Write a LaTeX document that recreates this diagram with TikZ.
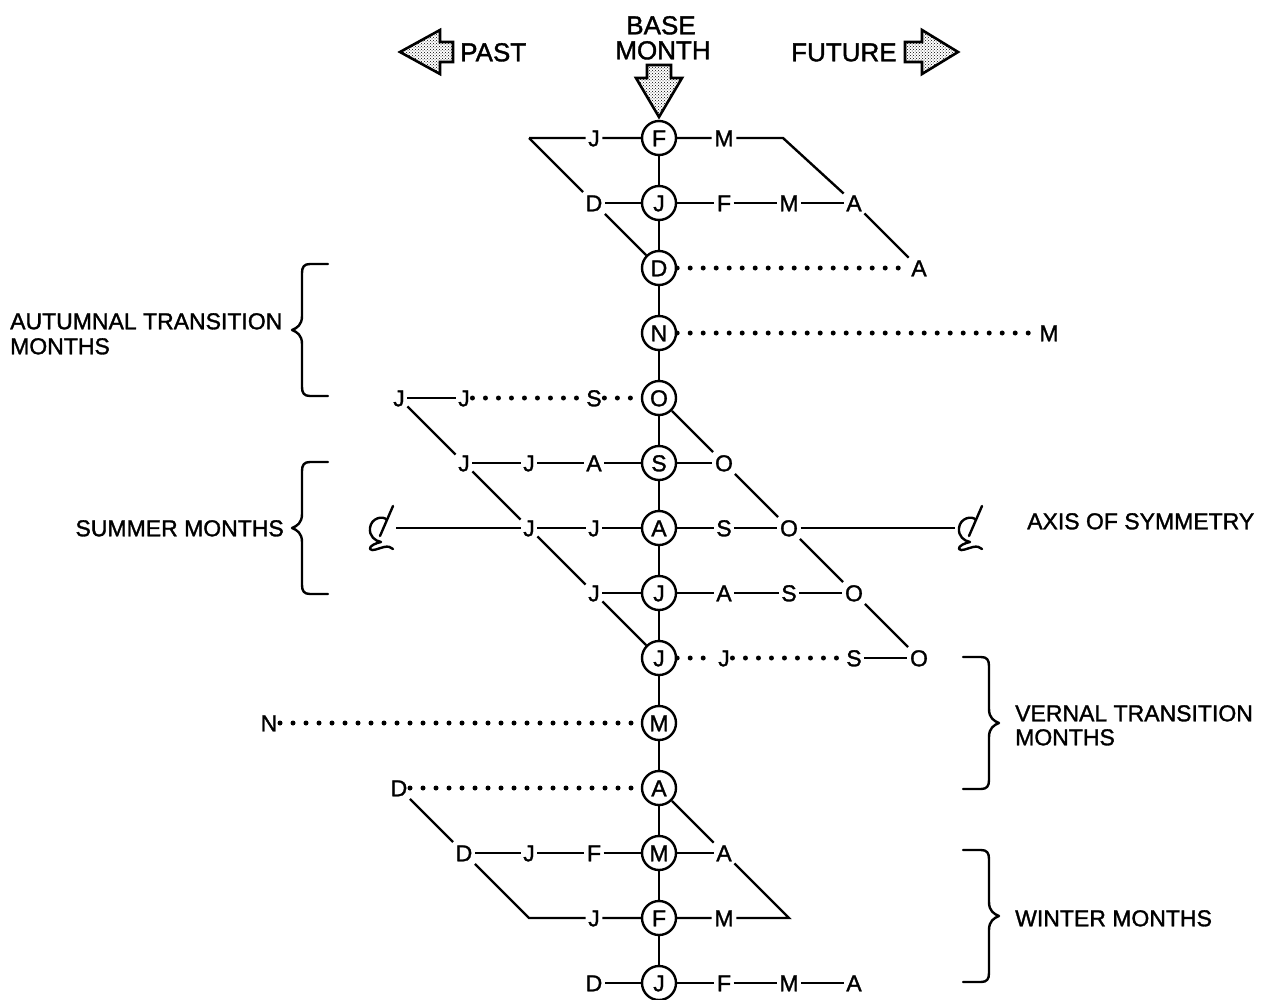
\documentclass[tikz,border=0pt]{standalone}
\usepackage{fontspec}
\setmainfont{Liberation Sans}
\newfontfamily\letterfont{Liberation Sans}[FakeBold=1.4]
\usetikzlibrary{patterns}
\newcommand{\labfont}{\letterfont\fontsize{23}{25}\selectfont}
\newcommand{\topfont}{\letterfont\fontsize{26}{26}\selectfont}
\begin{document}
\begin{tikzpicture}[x=1pt,y=-1pt,
  month/.style={inner sep=2.5pt, font=\labfont, text height=16.5pt, text depth=0pt},
  base/.style={circle, draw, line width=2.4pt, minimum size=34pt, inner sep=0pt, font=\labfont, text height=16.5pt, text depth=0pt},
  lbl/.style={inner sep=0pt, font=\labfont, text height=16.5pt, text depth=0pt},
  tlbl/.style={inner sep=0pt, font=\topfont, text height=18.6pt, text depth=0pt},
  ln/.style={line width=2.4pt},
  dots/.style={line width=5pt, line cap=round, dash pattern=on 0pt off 13pt},
  brace/.style={line width=2.4pt, line cap=round, line join=round},
  blockarrow/.style={draw, line width=2.6pt, line join=miter, pattern=crosshatch dots},
  clbox/.style={inner sep=0pt, minimum width=30pt, minimum height=40pt},
  clsym/.pic={
    \draw[line width=2.4pt, line cap=round, line join=round]
      (6,-8) .. controls (2,-13) and (-10,-10) .. (-11,0)
      .. controls (-12,8) and (-6,13) .. (0,14)
      .. controls (-5,15) and (-12,18) .. (-11,21)
      .. controls (-9,24) and (-2,20) .. (3,19)
      .. controls (7,18) and (10,19) .. (12,21);
    \draw[line width=2.4pt, line cap=round] (12,-22) -- (-1,8);
  },
  curly/.pic={
    \draw[brace] (36,-66) -- (18,-66) .. controls (12,-66) and (10,-63) .. (10,-57)
      -- (10,-14) .. controls (10,-5) and (5,-2) .. (0,0)
      .. controls (5,2) and (10,5) .. (10,14)
      -- (10,57) .. controls (10,63) and (12,66) .. (18,66) -- (36,66);
  }
]
\fill[white] (0,0) rectangle (1269,999);
\useasboundingbox (0,0) rectangle (1269,999);

% top labels and arrows
\node[tlbl] (base1) at (661,25) {BASE};
\node[tlbl] (base2) at (663,50) {MONTH};
\node[tlbl, anchor=west] (past) at (460,52) {PAST};
\node[tlbl, anchor=west] (future) at (791,52) {FUTURE};
\draw[blockarrow] (400,52) -- (440,30) -- (440,42) -- (453,42) -- (453,62) -- (440,62) -- (440,74) -- cycle;
\draw[blockarrow] (958,52) -- (922,30) -- (922,42) -- (905,42) -- (905,62) -- (922,62) -- (922,74) -- cycle;
\draw[blockarrow] (659,117) -- (636,78) -- (647,78) -- (647,65) -- (671,65) -- (671,78) -- (682,78) -- cycle;

% base months (column)
\node[base] (c0) at (659,138) {F};
\node[base] (c1) at (659,203) {J};
\node[base] (c2) at (659,268) {D};
\node[base] (c3) at (659,333) {N};
\node[base] (c4) at (659,398) {O};
\node[base] (c5) at (659,463) {S};
\node[base] (c6) at (659,528) {A};
\node[base] (c7) at (659,593) {J};
\node[base] (c8) at (659,658) {J};
\node[base] (c9) at (659,723) {M};
\node[base] (c10) at (659,788) {A};
\node[base] (c11) at (659,853) {M};
\node[base] (c12) at (659,918) {F};
\node[base] (c13) at (659,983) {J};

% row 0
\node[month] (m0w) at (594,138) {J};
\node[month] (m0e) at (724,138) {M};
\coordinate (k0w) at (529,138);
\coordinate (k0e) at (783,138);
% row 1
\node[month] (m1a) at (594,203) {D};
\node[month] (m1b) at (724,203) {F};
\node[month] (m1c) at (789,203) {M};
\node[month] (m1d) at (854,203) {A};
% row 2
\node[month] (m2a) at (919,268) {A};
% row 3
\node[month] (m3a) at (1049,333) {M};
% row 4
\node[month] (m4a) at (399,398) {J};
\node[month] (m4b) at (464,398) {J};
\node[month] (m4c) at (594,398) {S};
% row 5
\node[month] (m5a) at (464,463) {J};
\node[month] (m5b) at (529,463) {J};
\node[month] (m5c) at (594,463) {A};
\node[month] (m5d) at (724,463) {O};
% row 6
\node[clbox] (clL) at (381,528) {};
\node[clbox] (clR) at (970,528) {};
\pic at (381,528) {clsym};
\pic at (970,528) {clsym};
\node[month] (m6a) at (529,528) {J};
\node[month] (m6b) at (594,528) {J};
\node[month] (m6c) at (724,528) {S};
\node[month] (m6d) at (789,528) {O};
% row 7
\node[month] (m7a) at (594,593) {J};
\node[month] (m7b) at (724,593) {A};
\node[month] (m7c) at (789,593) {S};
\node[month] (m7d) at (854,593) {O};
% row 8
\node[month] (m8a) at (724,658) {J};
\node[month] (m8b) at (854,658) {S};
\node[month] (m8c) at (919,658) {O};
% row 9
\node[month] (m9a) at (269,723) {N};
% row 10
\node[month] (m10a) at (399,788) {D};
% row 11
\node[month] (m11a) at (464,853) {D};
\node[month] (m11b) at (529,853) {J};
\node[month] (m11c) at (594,853) {F};
\node[month] (m11d) at (724,853) {A};
% row 12
\coordinate (k12w) at (529,918);
\node[month] (m12a) at (594,918) {J};
\node[month] (m12b) at (724,918) {M};
\coordinate (k12e) at (789,918);
% row 13
\node[month] (m13a) at (594,983) {D};
\node[month] (m13b) at (724,983) {F};
\node[month] (m13c) at (789,983) {M};
\node[month] (m13d) at (854,983) {A};

% connectors
\draw[ln] (c0) -- (c1) -- (c2) -- (c3) -- (c4) -- (c5) -- (c6) -- (c7) -- (c8) -- (c9) -- (c10) -- (c11) -- (c12) -- (c13);
\draw[ln] (k0w) -- (m0w) -- (c0) -- (m0e) -- (k0e) -- (m1d) -- (m2a);
\draw[ln] (k0w) -- (m1a) -- (c2);
\draw[ln] (m1a) -- (c1) -- (m1b) -- (m1c) -- (m1d);
\draw[dots] (c2) -- (m2a);
\draw[dots] (c3) -- (m3a);
\draw[ln] (m4a) -- (m4b);
\draw[dots] (m4b) -- (m4c);
\draw[dots] (m4c) -- (c4);
\draw[ln] (m4a) -- (m5a) -- (m6a) -- (m7a) -- (c8);
\draw[ln] (c4) -- (m5d) -- (m6d) -- (m7d) -- (m8c);
\draw[ln] (m5a) -- (m5b) -- (m5c) -- (c5) -- (m5d);
\draw[ln] (clL) -- (m6a) -- (m6b) -- (c6) -- (m6c) -- (m6d) -- (clR);
\draw[ln] (m7a) -- (c7) -- (m7b) -- (m7c) -- (m7d);
\draw[dots] (c8) -- (m8a);
\draw[dots] (m8a) -- (m8b);
\draw[ln] (m8b) -- (m8c);
\draw[dots] (m9a) -- (c9);
\draw[dots] (m10a) -- (c10);
\draw[ln] (m10a) -- (m11a) -- (k12w) -- (m12a) -- (c12) -- (m12b) -- (k12e) -- (m11d) -- (c10);
\draw[ln] (m11a) -- (m11b) -- (m11c) -- (c11) -- (m11d);
\draw[ln] (m13a) -- (c13) -- (m13b) -- (m13c) -- (m13d);

% braces and group labels
\pic at (292,330) {curly};
\pic at (292,528) {curly};
\pic[xscale=-1] at (999,723) {curly};
\pic[xscale=-1] at (999,916) {curly};
\node[lbl, anchor=west] (aut1) at (10,321) {AUTUMNAL TRANSITION};
\node[lbl, anchor=west] (aut2) at (10,346) {MONTHS};
\node[lbl, anchor=east] (summer) at (284,528) {SUMMER MONTHS};
\node[lbl, anchor=west] (axis) at (1027,521) {AXIS OF SYMMETRY};
\node[lbl, anchor=west] (ver1) at (1015,713) {VERNAL TRANSITION};
\node[lbl, anchor=west] (ver2) at (1015,737) {MONTHS};
\node[lbl, anchor=west] (winter) at (1015,918) {WINTER MONTHS};
\end{tikzpicture}
\end{document}
